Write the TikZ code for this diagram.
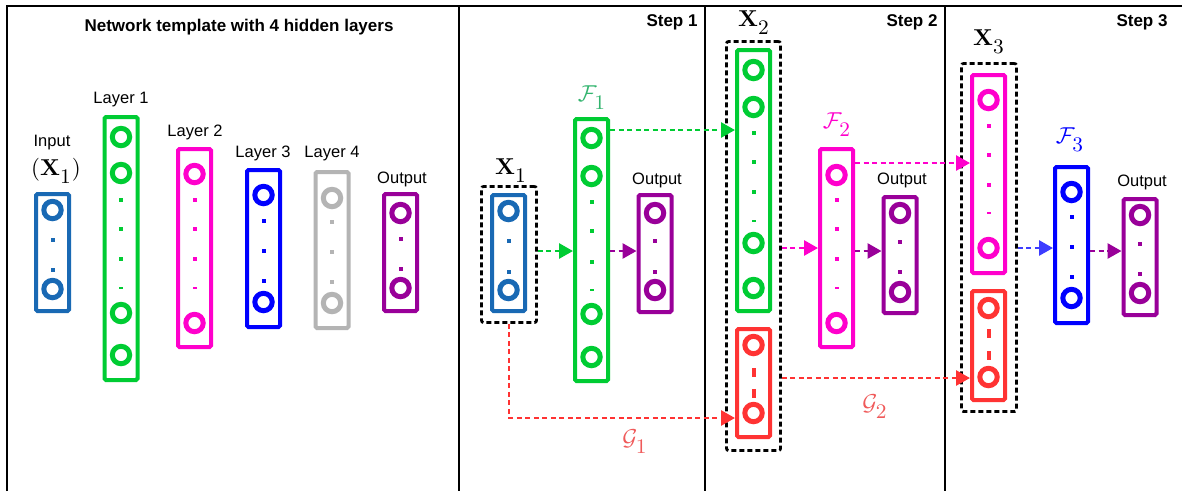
\documentclass[tikz,border=0pt]{standalone}
\usepackage[no-math]{fontspec}
\setmainfont{Liberation Sans}
\usetikzlibrary{arrows.meta,positioning}
\DeclareMathSizes{10}{10}{9.5}{7}

\definecolor{inblue}{RGB}{25,105,180}
\definecolor{lgreen}{RGB}{0,204,51}
\definecolor{lmagenta}{RGB}{255,0,204}
\definecolor{lblue}{RGB}{0,0,255}
\definecolor{lgray}{RGB}{180,180,180}
\definecolor{lpurple}{RGB}{153,0,153}
\definecolor{lred}{RGB}{255,51,51}
\definecolor{fgreen}{RGB}{50,180,110}
\definecolor{gred}{RGB}{240,90,90}
\definecolor{ablue}{RGB}{60,60,255}

\tikzset{
  colbox/.style={draw, line width=4pt, rounded corners=1.5pt, inner sep=0pt, minimum width=33pt},
  ring/.style={line width=5pt},
  frame/.style={draw, line width=2.8pt, dash pattern=on 5pt off 3pt, rounded corners=2pt, inner sep=0pt},
  arr/.style={line width=2.8pt, dash pattern=on 5pt off 3.5pt, -{Triangle[length=14pt,width=15pt]}},
  lbl/.style={font=\fontsize{16.5}{18}\selectfont},
  ttl/.style={font=\fontsize{17}{20}\selectfont\bfseries},
  mlbl/.style={font=\fontsize{10}{12}\selectfont, scale=2.3, transform shape}
}

% low, large subscript
\newcommand{\lsub}[1]{_{\raisebox{-2pt}{$\scriptstyle #1$}}}

% name, colour, x, top, bottom, rings, dots
\newcommand{\nncol}[7]{%
  \node[colbox, draw=#2, minimum height={#5-#4-4}] (#1) at (#3,{(#4+#5)/2}) {};
  \foreach \cy in {#6} \draw[ring, #2] (#3,\cy) circle[radius=8.7pt];
  \foreach \dy in {#7} \fill[#2] (#3,\dy) ++(-2,-2) rectangle ++(4,4);
}
\newcommand{\nndash}[3]{\fill[#1] (#2,#3) ++(-2,-1.3) rectangle ++(4,2.6);}
\newcommand{\nnbar}[3]{\fill[#1] (#2,#3) ++(-2,-4.5) rectangle ++(4,9);}

\begin{document}
\begin{tikzpicture}[x=1pt,y=-1pt]
\useasboundingbox (0,0) rectangle (1182,491);
\fill[white] (0,0) rectangle (1182,491);

% panels
\draw[line width=2pt] (7,491) -- (7,6) -- (1182,6);
\draw[line width=2pt] (459,6) -- (459,491);
\draw[line width=2pt] (705,6) -- (705,491);
\draw[line width=2pt] (945,6) -- (945,491);

\node[ttl] at (239,27) {Network template with 4 hidden layers};
\node[ttl] at (672,22) {Step 1};
\node[ttl] at (912,22) {Step 2};
\node[ttl] at (1142,22) {Step 3};

% template network
\nncol{inp}{inblue}{52.5}{192}{313}{210,289}{240,270}
\nncol{la}{lgreen}{121}{115}{382}{137,173,313,355}{200,229,259}
\nndash{lgreen}{121}{288}
\nncol{lb}{lmagenta}{194.5}{147}{349}{174,323}{200,229,259}
\nndash{lmagenta}{194.5}{288}
\nncol{lc}{lblue}{263.5}{168}{329}{195,302}{221,251,281}
\nncol{ld}{lgray}{332}{170}{330}{198,303}{222,252,282}
\nncol{out}{lpurple}{400.5}{192}{313}{213,288}{239,269}

\node[lbl] at (52,143) {Input};
\node[mlbl] at (56,171) {$(\mathbf{X}\lsub{1})$};
\node[lbl] at (121,100) {Layer 1};
\node[lbl] at (195,132) {Layer 2};
\node[lbl] at (263,153) {Layer 3};
\node[lbl] at (332,154) {Layer 4};
\node[lbl] at (402,179) {Output};

% step 1
\node[frame, minimum width=55pt, minimum height=136pt] (xafr) at (509,254.5) {};
\nncol{xa}{inblue}{508.5}{193}{313}{211,290}{241,272}
\nncol{fa}{lgreen}{591.5}{117}{383}{138,176,314,357}{202,231,262}
\nndash{lgreen}{591.5}{290}
\nncol{oa}{lpurple}{655}{193}{314}{213,290}{241,272}
\node[mlbl] at (511,171) {$\mathbf{X}\lsub{1}$};
\node[mlbl, text=fgreen] at (592,98) {$\mathcal{F}\lsub{1}$};
\node[lbl] at (657,180) {Output};

% step 2
\node[frame, minimum width=54pt, minimum height=409pt] (xbfr) at (753.5,246) {};
\nncol{xb}{lgreen}{753.5}{48}{313}{70,107,243,288}{133,162,192}
\nndash{lgreen}{753.5}{221}
\nncol{gb}{lred}{753.5}{327}{439}{345,413}{}
\nnbar{lred}{753.5}{372}
\nnbar{lred}{753.5}{393}
\nncol{fb}{lmagenta}{836.5}{147}{349}{175,323}{200,229,259}
\nndash{lmagenta}{836.5}{288}
\nncol{ob}{lpurple}{900}{195}{315}{213,292}{242,272}
\node[mlbl] at (754,23) {$\mathbf{X}\lsub{2}$};
\node[mlbl, text=lmagenta] at (837,125) {$\mathcal{F}\lsub{2}$};
\node[lbl] at (902,180) {Output};

% step 3
\node[frame, minimum width=55pt, minimum height=348pt] (xcfr) at (989,237.5) {};
\nncol{xc}{lmagenta}{988.5}{73}{275}{100,248}{126,155,185}
\nndash{lmagenta}{988.5}{213}
\nncol{gc}{lred}{988.5}{289}{402}{308,377}{}
\nnbar{lred}{988.5}{333}
\nnbar{lred}{988.5}{355}
\nncol{fc}{lblue}{1071.5}{165}{325}{192,298}{217,247,277}
\nncol{oc}{lpurple}{1140}{197}{317}{215,293}{244,274}
\node[mlbl] at (989,42) {$\mathbf{X}\lsub{3}$};
\node[mlbl, text=lblue] at (1070,140) {$\mathcal{F}\lsub{3}$};
\node[lbl] at (1142,182) {Output};

% connectors
\draw[arr, lgreen] (xafr.east |- 0,251) -- (fa.west |- 0,251);
\draw[arr, lpurple] (fa.east |- 0,251) -- (oa.west |- 0,251);
\draw[arr, lgreen] (fa.east |- 0,130) -- (xb.west |- 0,130);
\draw[arr, lred] (xafr.south) |- (gb.west |- 0,418);
\draw[arr, lmagenta] (xbfr.east |- 0,248) -- (fb.west |- 0,248);
\draw[arr, lpurple] (fb.east |- 0,251) -- (ob.west |- 0,251);
\draw[arr, lmagenta] (fb.east |- 0,163) -- (xc.west |- 0,163);
\draw[arr, lred] (xbfr.east |- 0,378) -- (gc.west |- 0,378);
\draw[arr, ablue] (xcfr.east |- 0,248) -- (fc.west |- 0,248);
\draw[arr, lpurple] (fc.east |- 0,251) -- (oc.west |- 0,251);

\node[mlbl, text=gred] at (635,442) {$\mathcal{G}\lsub{1}$};
\node[mlbl, text=gred] at (875,407) {$\mathcal{G}\lsub{2}$};
\end{tikzpicture}
\end{document}
